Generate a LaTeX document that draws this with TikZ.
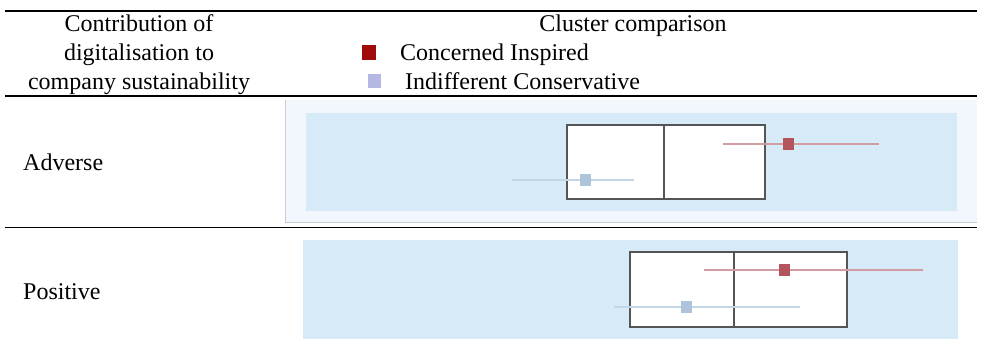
\documentclass[tikz,border=0pt]{standalone}
\usepackage{fontspec}
\setmainfont{Liberation Serif}
\definecolor{ciRed}{HTML}{A00A0A}
\definecolor{icBlue}{HTML}{B4B8E2}
\definecolor{panelOuter}{HTML}{F2F7FD}
\definecolor{panelEdge}{HTML}{C8CCD2}
\definecolor{panelBlue}{HTML}{D6EBF7}
\definecolor{boxEdge}{HTML}{555555}
\definecolor{redMark}{HTML}{B4555E}
\definecolor{redWhisk}{HTML}{D29CA4}
\definecolor{blueMark}{HTML}{AEC4DA}
\definecolor{blueWhisk}{HTML}{C2D6E5}
\tikzset{
  txt/.style={inner sep=0pt, font=\fontsize{24}{30}\selectfont, anchor=base},
  rulebar/.style={draw=black, line width=1.6pt},
  iqrbox/.style={draw=boxEdge, line width=1.8pt, fill=white},
  medline/.style={draw=boxEdge, line width=1.5pt},
  redline/.style={draw=redWhisk, line width=2.8pt},
  blueline/.style={draw=blueWhisk, line width=2.8pt},
  redsq/.style={fill=redMark, minimum width=11pt, minimum height=12pt, inner sep=0pt},
  bluesq/.style={fill=blueMark, minimum width=11pt, minimum height=12pt, inner sep=0pt},
}
\begin{document}
\begin{tikzpicture}[x=1pt, y=-1pt]
\useasboundingbox (0,0) rectangle (982,349);

% table rules
\draw[rulebar, line width=2pt] (5,10.5) -- (977,10.5);
\draw[rulebar] (5,96) -- (977,96);
\draw[rulebar] (5,227.5) -- (977,227.5);

% header
\node[txt] (h1) at (139,31) {Contribution of};
\node[txt] (h2) at (139,60) {digitalisation to};
\node[txt] (h3) at (139,89) {company sustainability};
\node[txt] (hc) at (633,31) {Cluster comparison};
\node[fill=ciRed, minimum width=14pt, minimum height=15pt, inner sep=0pt] (lr) at (369,52) {};
\node[txt, anchor=base west] (lrt) at (400,60) {Concerned Inspired};
\node[fill=icBlue, minimum width=13pt, minimum height=14pt, inner sep=0pt] (lb) at (374.5,81) {};
\node[txt, anchor=base west] (lbt) at (405,89) {Indifferent Conservative};

% row labels
\node[txt, anchor=base west] (ra) at (23,170) {Adverse};
\node[txt, anchor=base west] (rp) at (23,299) {Positive};

% adverse panel
\fill[panelOuter] (285,100) rectangle (977,222);
\draw[panelEdge, line width=1pt] (285.5,100) -- (285.5,222.5) -- (977,222.5);
\fill[panelBlue] (306,113) rectangle (957,211);
\draw[iqrbox] (567,125) rectangle (765,199);
\draw[medline] (664,125) -- (664,199);
\coordinate (ar0) at (723,144);
\coordinate (ar1) at (879,144);
\draw[redline] (ar0) -- (ar1);
\node[redsq] (arm) at (788,144) {};
\coordinate (ab0) at (512,180);
\coordinate (ab1) at (634,180);
\draw[blueline] (ab0) -- (ab1);
\node[bluesq] (abm) at (585,180) {};

% positive panel
\fill[panelBlue] (303,240) rectangle (958,339);
\draw[iqrbox] (630,252) rectangle (847,327);
\draw[medline] (734,252) -- (734,327);
\coordinate (pr0) at (704,270);
\coordinate (pr1) at (923,270);
\draw[redline] (pr0) -- (pr1);
\node[redsq] (prm) at (784,270) {};
\coordinate (pb0) at (614,307);
\coordinate (pb1) at (800,307);
\draw[blueline] (pb0) -- (pb1);
\node[bluesq] (pbm) at (686,307) {};
\end{tikzpicture}
\end{document}
